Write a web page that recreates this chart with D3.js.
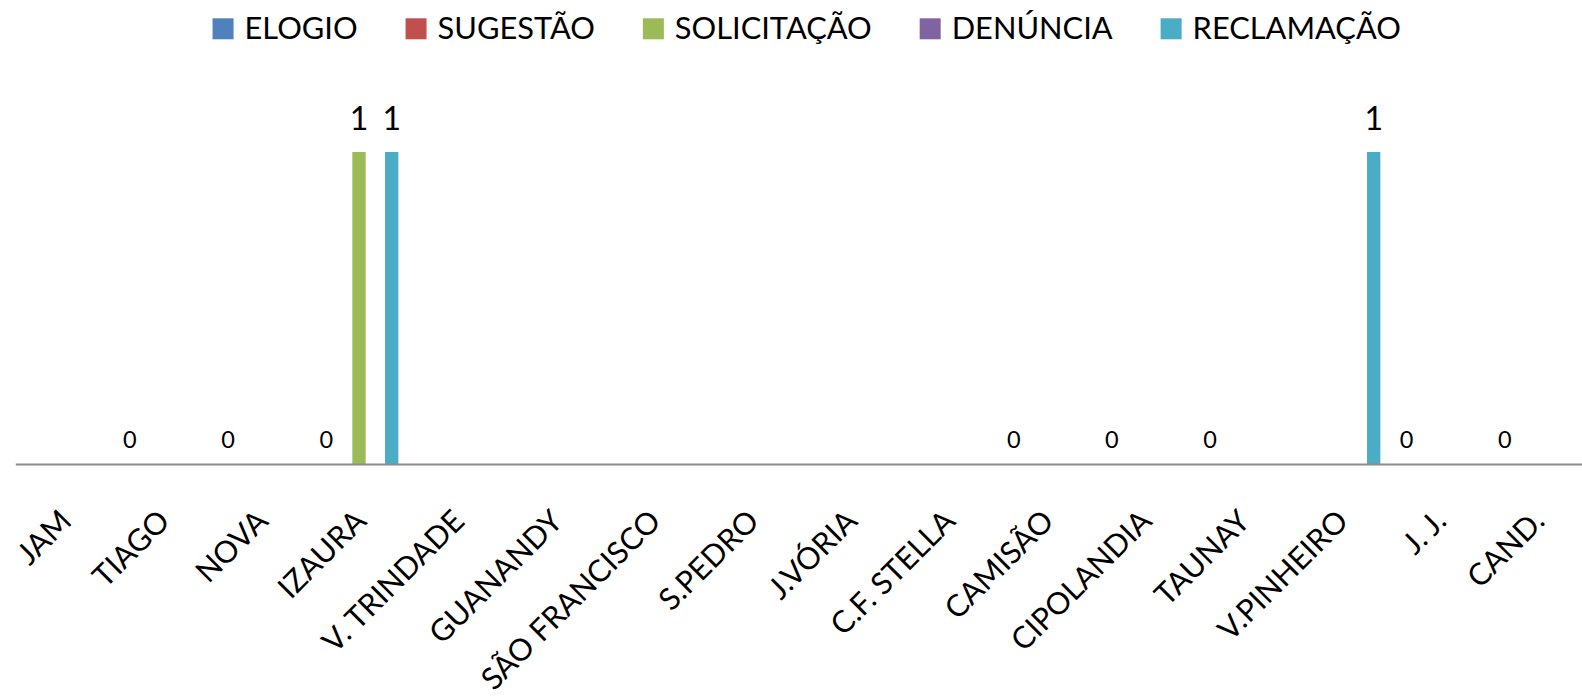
<!DOCTYPE html>
<html>
<head>
<meta charset="utf-8">
<script src="https://cdn.jsdelivr.net/npm/d3@7"></script>
<style>
  html, body { margin: 0; padding: 0; background: #fff; }
  svg { display: block; font-family: Lato, "Open Sans", sans-serif; }
</style>
</head>
<body>
<svg id="chart" width="1582" height="697"></svg>
<script>
// Neighbourhoods along the category axis
const categories = ["JAM", "TIAGO", "NOVA", "IZAURA", "V. TRINDADE", "GUANANDY",
  "SÃO FRANCISCO", "S.PEDRO", "J.VÓRIA", "C.F. STELLA", "CAMISÃO", "CIPOLANDIA",
  "TAUNAY", "V.PINHEIRO", "J. J.", "CAND."];

// Series names (legend order)
const seriesNames = ["ELOGIO", "SUGESTÃO", "SOLICITAÇÃO", "DENÚNCIA", "RECLAMAÇÃO"];

// Counts per neighbourhood; null = no entry recorded
const elogio      = [null, 0, 0, 0, null, null, null, null, null, null, 0, 0, 0, null, 0, 0];
const sugestao    = [null, null, null, null, null, null, null, null, null, null, null, null, null, null, null, null];
const solicitacao = [null, null, null, 1, null, null, null, null, null, null, null, null, null, null, null, null];
const denuncia    = [null, null, null, null, null, null, null, null, null, null, null, null, null, null, null, null];
const reclamacao  = [null, null, null, 1, null, null, null, null, null, null, null, null, null, 1, null, null];

const seriesValues = [elogio, sugestao, solicitacao, denuncia, reclamacao];
const colors = ["#4F81BD", "#C0504D", "#9BBB59", "#8064A2", "#4BACC6"];

const svg = d3.select("#chart");

// Plot geometry
const plotLeft = 15.3, plotRight = 1586.5;
const y0 = 464;
const yTop = 89.6;

const x0 = d3.scaleBand().domain(categories).range([plotLeft, plotRight]).padding(0);
const x1 = d3.scaleBand().domain(seriesNames).range([-39.35, 39.35]).paddingInner(0.185).paddingOuter(0);
const y = d3.scaleLinear().domain([0, 1.2]).range([y0, yTop]);

const flat = [];
seriesNames.forEach((s, si) => {
  categories.forEach((c, ci) => {
    const v = seriesValues[si][ci];
    if (v !== null) flat.push({ series: s, si, cat: c, value: v });
  });
});

const cx = d => x0(d.cat) + x0.bandwidth() / 2 + x1(d.series);
const labelSize = d => d.si === 0 ? 23.5 : 32;

// Bars
svg.append("g").selectAll("rect")
  .data(flat.filter(d => d.value > 0))
  .join("rect")
  .attr("x", cx)
  .attr("width", x1.bandwidth())
  .attr("y", d => y(d.value))
  .attr("height", d => y(0) - y(d.value))
  .attr("fill", d => colors[d.si]);

// Value labels (ELOGIO series uses smaller labels)
svg.append("g").selectAll("text")
  .data(flat)
  .join("text")
  .attr("x", d => cx(d) + x1.bandwidth() / 2)
  .attr("y", d => y(d.value) - labelSize(d) * 0.7)
  .attr("text-anchor", "middle")
  .attr("font-size", labelSize)
  .attr("fill", "#000")
  .text(d => d.value);

// Category axis
const xAxis = d3.axisBottom(x0).tickSize(0).tickPadding(0);
const gx = svg.append("g").attr("transform", `translate(0,${y0})`).call(xAxis);
gx.select(".domain").attr("stroke", "#8c8c8c").attr("stroke-width", 2);
gx.selectAll(".tick text")
  .attr("font-size", 30.5)
  .attr("font-family", "Lato, 'Open Sans', sans-serif")
  .attr("fill", "#000")
  .attr("text-anchor", "end")
  .attr("dy", 0)
  .attr("y", 0)
  .attr("transform", "translate(9,59) rotate(-45)");

// Legend
const legend = svg.append("g").attr("class", "legend");
const items = legend.selectAll("g").data(seriesNames).join("g");
items.append("rect")
  .attr("width", 21).attr("height", 21)
  .attr("y", 18.3)
  .attr("fill", (d, i) => colors[i]);
items.append("text")
  .attr("x", 32)
  .attr("y", 39.3)
  .attr("font-size", 30.8)
  .attr("fill", "#000")
  .text(d => d);

let offset = 0;
items.each(function () {
  const g = d3.select(this);
  g.attr("transform", `translate(${offset},0)`);
  offset += 32 + g.select("text").node().getComputedTextLength() + 48;
});
const legendWidth = offset - 48;
legend.attr("transform", `translate(${806.7 - legendWidth / 2},0)`);
</script>
</body>
</html>
